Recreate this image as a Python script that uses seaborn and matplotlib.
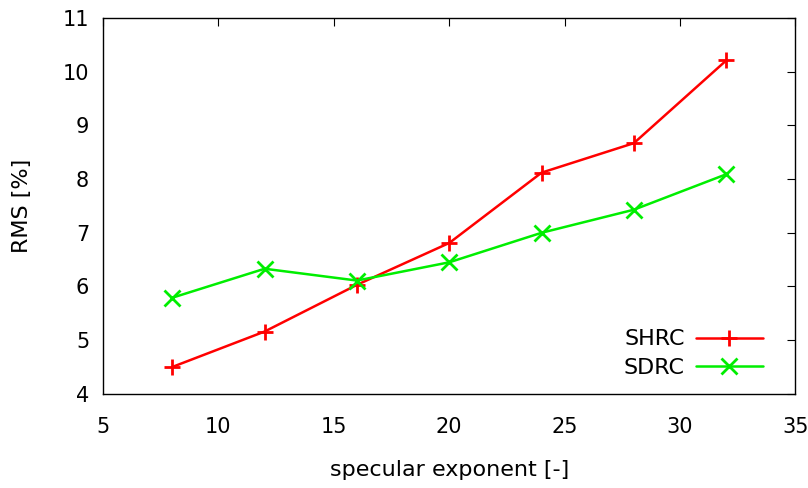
import matplotlib
matplotlib.use("Agg")
import matplotlib.pyplot as plt
import seaborn as sns
import pandas as pd

x_vals = [8, 12, 16, 20, 24, 28, 32]
shrc = [4.50, 5.16, 6.03, 6.81, 8.12, 8.67, 10.21]
sdrc = [5.79, 6.33, 6.11, 6.45, 7.00, 7.43, 8.09]
series_names = ["SHRC", "SDRC"]
xticks = [5, 10, 15, 20, 25, 30, 35]
yticks = [4, 5, 6, 7, 8, 9, 10, 11]

sns.set_style("white")
plt.rcParams['font.family'] = ['DejaVu Sans']
plt.rcParams['text.color'] = 'black'
plt.rcParams['axes.labelcolor'] = 'black'

colors = {"SHRC": "#ff0000", "SDRC": "#00ee00"}

df = pd.DataFrame({
    "x": x_vals * 2,
    "y": shrc + sdrc,
    "series": [series_names[0]] * len(x_vals) + [series_names[1]] * len(x_vals),
})

fig = plt.figure(figsize=(8.08, 4.88), dpi=100)
ax = fig.add_axes([0.1275, 0.193, 0.857, 0.770])

sns.lineplot(data=df, x="x", y="y", hue="series", style="series",
             markers={"SHRC": "+", "SDRC": "x"}, dashes=False,
             palette=colors,
             linewidth=1.8, markersize=11, markeredgewidth=2, ax=ax)

for ln in ax.lines:
    ln.set_markeredgecolor(ln.get_color())
    ln.set_markerfacecolor(ln.get_color())

ax.set_xlim(5, 35)
ax.set_ylim(4, 11)
ax.set_xticks(xticks)
ax.set_yticks(yticks)
ax.tick_params(direction="in", length=6, width=0.8, top=True, right=True,
               labelsize=15, colors="black")
ax.tick_params(axis="x", pad=17)
ax.tick_params(axis="y", pad=10)
for s in ax.spines.values():
    s.set_color("black")
    s.set_linewidth(1)
ax.set_xlabel("specular exponent [-]", fontsize=16, labelpad=16, color="black")
ax.set_ylabel("RMS [%]", fontsize=16, labelpad=22, color="black")

leg = ax.legend(loc="lower right", frameon=False, markerfirst=False,
                fontsize=16, handlelength=3.0, borderaxespad=0.3,
                labelspacing=0.4, handletextpad=0.5, title=None,
                bbox_to_anchor=(0.975, 0.0))
for t in leg.get_texts():
    t.set_color("black")
for ln in leg.get_lines():
    ln.set_markeredgecolor(ln.get_color())
    ln.set_markeredgewidth(2)

fig.savefig("out.png", dpi=100)
